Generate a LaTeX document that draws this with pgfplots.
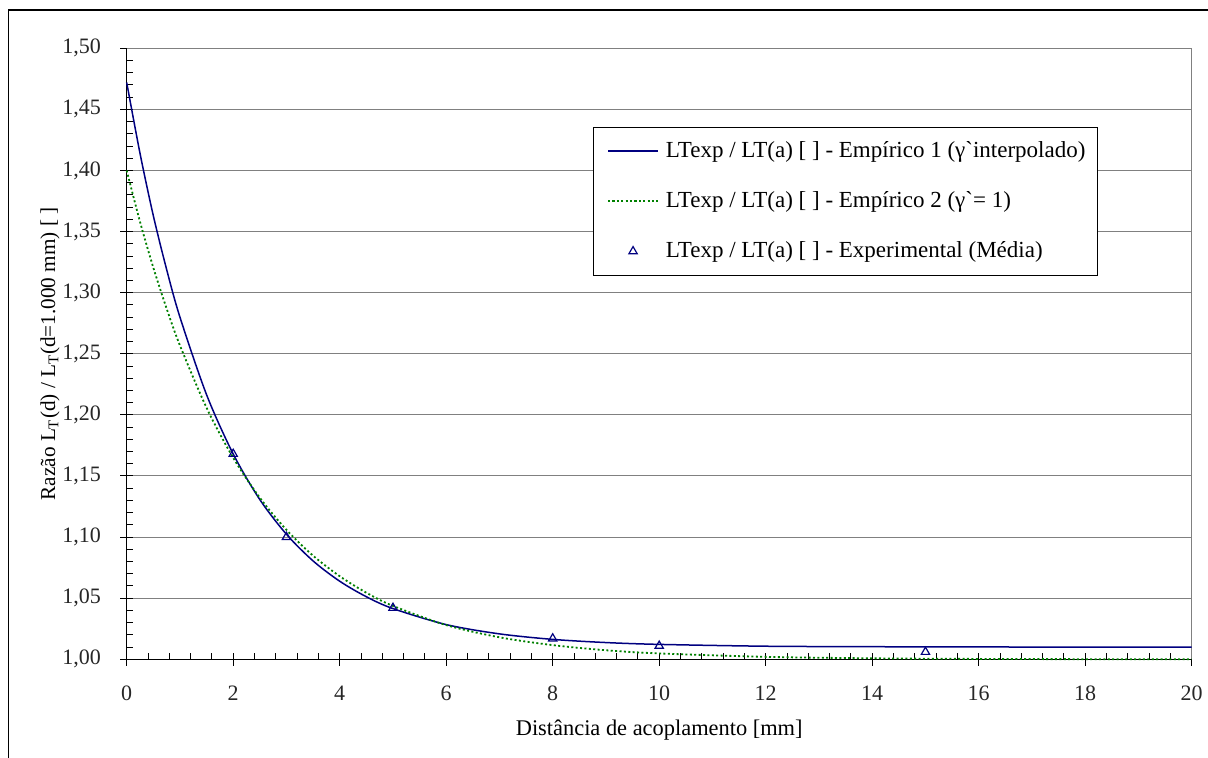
\documentclass[border=0pt]{standalone}
\usepackage{fontspec}
\setmainfont{Liberation Serif}
\usepackage{pgfplots}
\pgfplotsset{compat=1.18}
\definecolor{navyb}{RGB}{0,0,128}
\definecolor{greend}{RGB}{0,128,0}
\definecolor{gridg}{RGB}{128,128,128}
\begin{document}
\fontsize{10.5}{12.6}\selectfont
\begin{tikzpicture}
\useasboundingbox (0,0) rectangle (604pt,379pt);
\draw[line width=0.6pt] (4.15pt,0) -- (4.15pt,374pt) -- (604pt,374pt);
\begin{axis}[
  at={(63.35pt,49.35pt)}, anchor=south west,
  scale only axis, width=532.5pt, height=305.5pt,
  xmin=0, xmax=20, ymin=1, ymax=1.5,
  xtick={0,2,4,6,8,10,12,14,16,18,20},
  ytick={1,1.05,1.1,1.15,1.2,1.25,1.3,1.35,1.4,1.45,1.5},
  minor x tick num=4, minor y tick num=4,
  xtick pos=bottom, ytick pos=left,
  tick align=center,
  major tick length=6.5pt, minor tick length=3pt,
  minor x tick style={yshift=1.5pt}, minor y tick style={xshift=1.5pt},
  tick style={black, line width=0.5pt},
  axis line style={gridg, line width=0.6pt},
  ymajorgrids, major grid style={gridg, line width=0.5pt},
  /pgf/number format/assume math mode=true,
  tick label style={font=\fontsize{11}{12}\selectfont, text=black!85},
  yticklabel style={/pgf/number format/fixed, /pgf/number format/fixed zerofill,
    /pgf/number format/precision=2, /pgf/number format/use comma, xshift=-6pt},
  xticklabel style={yshift=-6.5pt},
  xlabel={Distância de acoplamento [mm]},
  ylabel={Razão L\textsubscript{T}(d) / L\textsubscript{T}(d=1.000 mm) [ ]},
  xlabel style={at={(axis description cs:0.5,-0.116)}, anchor=center, font=\fontsize{11.2}{12}\selectfont},
  ylabel style={at={(axis description cs:-0.072,0.5)}, anchor=center, font=\fontsize{10.6}{12}\selectfont},
  clip=false,
  legend style={at={(0.4376,0.871)}, anchor=north west, draw=black, thin,
    font=\fontsize{11.5}{12.5}\selectfont, row sep=11.5pt, inner xsep=4pt, inner ysep=5pt,
    /tikz/every odd column/.append style={column sep=1.5pt}},
  legend cell align=left,
  legend image code/.code={\path (0pt,0pt); \draw[mark repeat=2,mark phase=2] plot coordinates {(3pt,0pt) (15.5pt,0pt) (28pt,0pt)};},
]
\draw[black, line width=0.6pt] (rel axis cs:0,1) -- (rel axis cs:0,0) -- (rel axis cs:1,0);
\addplot[navyb, line width=0.75pt, smooth] coordinates {
(0,1.472) (0.25,1.414) (0.5,1.363) (0.75,1.319) (1,1.280) (1.5,1.2165) (2,1.168)
(2.5,1.1307) (3,1.1023) (3.5,1.0805) (4,1.0639) (4.5,1.0512) (5,1.0415) (6,1.0284)
(7,1.0208) (8,1.0163) (9,1.0137) (10,1.0122) (12,1.0107) (14,1.0103) (16,1.0101)
(18,1.0100) (20,1.0100)};
\addlegendentry{LTexp / LT(a) [ ] - Empírico 1 (γ\textasciigrave interpolado)}
\addplot[greend, line width=0.9pt, dash pattern=on 1pt off 1.2pt, smooth] coordinates {
(0,1.400) (0.25,1.358) (0.5,1.3205) (0.75,1.287) (1,1.2568) (1.5,1.2058) (2,1.1649)
(2.5,1.1322) (3,1.1059) (3.5,1.0848) (4,1.068) (4.5,1.0545) (5,1.0437) (6,1.028)
(7,1.018) (8,1.0116) (9,1.0074) (10,1.0048) (12,1.002) (14,1.0008) (16,1.0003)
(18,1.0001) (20,1.0000)};
\addlegendentry{LTexp / LT(a) [ ] - Empírico 2 (γ\textasciigrave= 1)}
\addplot[navyb, only marks, mark=triangle, mark size=2.4pt, mark options={line width=0.6pt},
  legend image code/.code={\path (0pt,0pt) (28pt,0pt); \draw plot coordinates {(15.5pt,0pt)};}] coordinates {
(2,1.168) (3,1.100) (5,1.042) (8,1.017) (10,1.011) (15,1.006)};
\addlegendentry{LTexp / LT(a) [ ] - Experimental (Média)}
\end{axis}
\end{tikzpicture}
\end{document}
